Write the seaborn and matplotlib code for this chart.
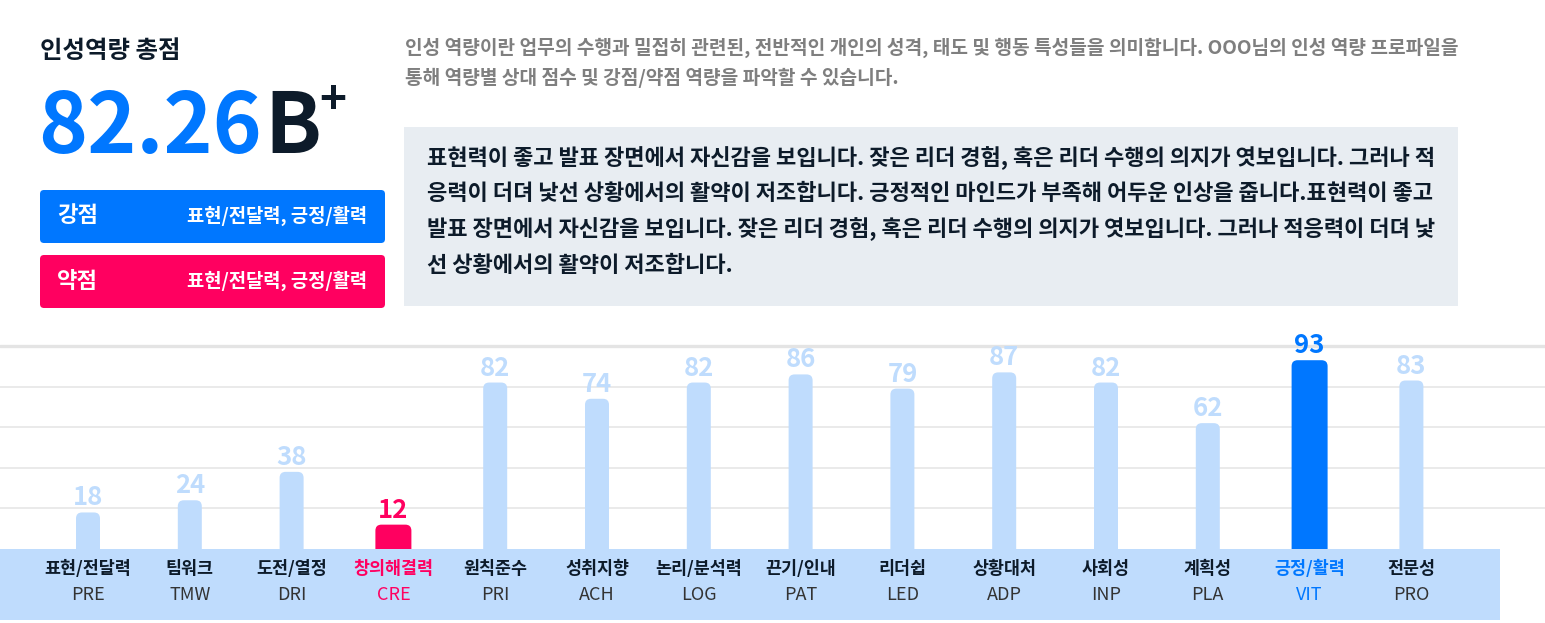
import matplotlib
matplotlib.use("Agg")
import matplotlib.pyplot as plt
import matplotlib.transforms as mtransforms
import seaborn as sns
import pandas as pd
from matplotlib.patches import FancyBboxPatch, Rectangle

# competency names, codes and scores
names = ["표현/전달력", "팀워크", "도전/열정", "창의해결력", "원칙준수", "성취지향", "논리/분석력",
         "끈기/인내", "리더쉽", "상황대처", "사회성", "계획성", "긍정/활력", "전문성"]
codes = ["PRE", "TMW", "DRI", "CRE", "PRI", "ACH", "LOG", "PAT", "LED", "ADP", "INP", "PLA", "VIT", "PRO"]
scores = [18, 24, 38, 12, 82, 74, 82, 86, 79, 87, 82, 62, 93, 83]
weak_code = "CRE"
strong_code = "VIT"

total_score = "82.26"
grade = "B"
strong_text = "표현/전달력, 긍정/활력"
weak_text = "표현/전달력, 긍정/활력"

intro_lines = [
    "인성 역량이란 업무의 수행과 밀접히 관련된, 전반적인 개인의 성격, 태도 및 행동 특성들을 의미합니다. OOO님의 인성 역량 프로파일을",
    "통해 역량별 상대 점수 및 강점/약점 역량을 파악할 수 있습니다.",
]
summary_lines = [
    "표현력이 좋고 발표 장면에서 자신감을 보입니다. 잦은 리더 경험, 혹은 리더 수행의 의지가 엿보입니다. 그러나 적",
    "응력이 더뎌 낯선 상황에서의 활약이 저조합니다. 긍정적인 마인드가 부족해 어두운 인상을 줍니다.표현력이 좋고",
    "발표 장면에서 자신감을 보입니다. 잦은 리더 경험, 혹은 리더 수행의 의지가 엿보입니다. 그러나 적응력이 더뎌 낯",
    "선 상황에서의 활약이 저조합니다.",
]

BLUE = "#0077ff"
PINK = "#ff0060"
LIGHT = "#bfdcfd"
DARK = "#0d1b2a"

sns.set_theme(style="white")
plt.rcParams["font.family"] = ["Noto Sans CJK KR", "DejaVu Sans"]

W, H = 1545, 623
fig = plt.figure(figsize=(W / 100, H / 100), dpi=100)
# transform in reference pixels, origin top-left
px = mtransforms.Affine2D().scale(1 / W, -1 / H).translate(0, 1) + fig.transFigure

# ---- header on the left
fig.text(40, 51, "인성역량 총점", transform=px, fontsize=17.6, weight="bold", color=DARK, va="center")
fig.text(38, 153, total_score, transform=px, fontsize=60, weight="bold", color=BLUE, va="baseline")
fig.text(264, 153, grade, transform=px, fontsize=60, weight="bold", color=DARK, va="baseline")
fig.text(319, 114, "+", transform=px, fontsize=33, weight="bold", color=DARK, va="baseline")

for y0, color, label, txt in [(190, BLUE, "강점", strong_text), (255, PINK, "약점", weak_text)]:
    fig.add_artist(FancyBboxPatch((40, y0), 345, 53, boxstyle="round,pad=0,rounding_size=4",
                                  transform=px, fc=color, ec="none"))
    fig.text(57, y0 + 26, label, transform=px, fontsize=16, weight="bold", color="white", va="center")
    fig.text(367, y0 + 26, txt, transform=px, fontsize=13.5, weight="bold", color="white",
             va="center", ha="right")

# ---- description and summary box
for k, line in enumerate(intro_lines):
    fig.text(405, 48 + k * 30, line, transform=px, fontsize=13.8, weight="bold", color="#7f7f7f", va="center")

fig.add_artist(Rectangle((404, 127), 1054, 179, transform=px, fc="#e8edf2", ec="none"))
for k, line in enumerate(summary_lines):
    fig.text(427, 158 + k * 35.7, line, transform=px, fontsize=15.9, weight="bold", color=DARK, va="center")

# ---- bar chart
base_px, top_px = 549, 346
ax = fig.add_axes([0, 1 - base_px / H, 1, (base_px - top_px) / H])
unit = (base_px - top_px) / 100  # pixels per score unit
step = 101.8  # pixels between bars
first = 88

df = pd.DataFrame({"code": codes, "score": scores, "name": names})
palette = {c: (PINK if c == weak_code else BLUE if c == strong_code else LIGHT) for c in codes}
sns.barplot(data=df, x="code", y="score", hue="code", palette=palette, width=24 / step,
            legend=False, ax=ax, saturation=1)

# rounded tops; highlighted bars are wider
for p in list(ax.patches):
    cx = p.get_x() + p.get_width() / 2
    i = int(round(cx))
    h = p.get_height()
    w = 36 / step if codes[i] in (weak_code, strong_code) else p.get_width()
    fc = p.get_facecolor()
    p.remove()
    r = 6 / step
    ax.add_patch(FancyBboxPatch((cx - w / 2, -6), w, h + 6, boxstyle=f"round,pad=0,rounding_size={r}",
                                mutation_aspect=(6 / unit) / r, fc=fc, ec="none", zorder=2, clip_on=False))

ax.set_xlim(-first / step, (W - first) / step)
ax.set_ylim(0, 100)
ax.set_yticks([20, 40, 60, 80])
ax.yaxis.grid(True, color="#e6e6e6", lw=1.2)
ax.set_axisbelow(True)
ax.axhline(100, color="#e4e4e4", lw=2.4, zorder=1, clip_on=False)
for s in ax.spines.values():
    s.set_visible(False)
ax.tick_params(left=False, bottom=False, labelleft=False, labelbottom=False)
ax.set_xlabel("")
ax.set_ylabel("")

# label band under the bars
blend = mtransforms.blended_transform_factory(ax.transAxes, ax.transData)
band_h = (620 - base_px) / unit
ax.add_patch(Rectangle((0, -band_h), 1500 / W, band_h, transform=blend, fc=LIGHT, ec="none",
                       zorder=3, clip_on=False))

for i, (n, c, v) in enumerate(zip(names, codes, scores)):
    if c == weak_code:
        tc, nc, cc = PINK, PINK, PINK
    elif c == strong_code:
        tc, nc, cc = BLUE, BLUE, BLUE
    else:
        tc, nc, cc = LIGHT, DARK, "#333333"
    ax.text(i, v + 7 / unit, str(v), ha="center", va="baseline", fontsize=18.5, weight="bold",
            color=tc, zorder=5, clip_on=False)
    ax.text(i, -(569 - base_px) / unit, n, ha="center", va="center", fontsize=12.5, weight="bold",
            color=nc, zorder=5, clip_on=False)
    ax.text(i, -(595 - base_px) / unit, c, ha="center", va="center", fontsize=13, weight="light",
            color=cc, zorder=5, clip_on=False)

fig.savefig("out.png", dpi=100, facecolor="white")
